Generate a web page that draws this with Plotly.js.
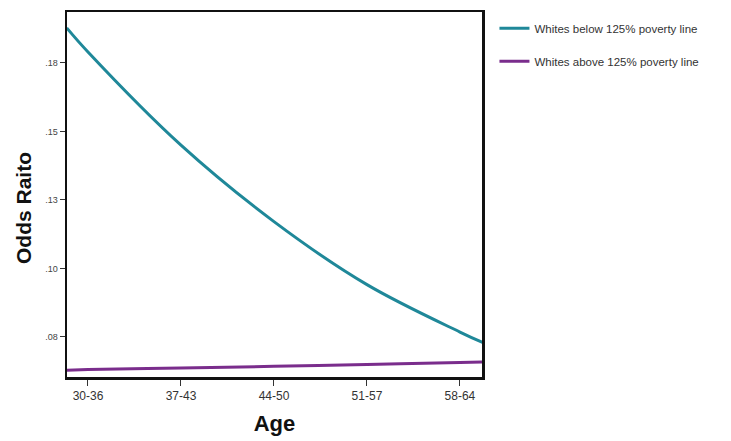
<!DOCTYPE html>
<html>
<head>
<meta charset="utf-8">
<script src="https://cdn.plot.ly/plotly-3.0.1.min.js"></script>
<style>html,body{margin:0;padding:0;background:#fff;}#chart{width:731px;height:441px;}</style>
</head>
<body>
<div id="chart"></div>
<script>
// Age positions (group midpoints; first/last are the visible curve ends)
const ages = [31.4, 33, 40, 47, 54, 61, 62.7];
const belowPoverty = [0.1878, 0.179, 0.145, 0.1171, 0.0941, 0.0768, 0.0730];
const abovePoverty = [0.0629, 0.0631, 0.0637, 0.0643, 0.0650, 0.0657, 0.0659];
const ageTickVals = [33, 40, 47, 54, 61];
const ageTickText = ["30-36", "37-43", "44-50", "51-57", "58-64"];
const oddsTickVals = [0.075, 0.1, 0.125, 0.15, 0.175];
const oddsTickText = [".08", ".10", ".13", ".15", ".18"];
const seriesNames = ["Whites below 125% poverty line", "Whites above 125% poverty line"];

const traces = [
  {x: ages, y: belowPoverty, name: seriesNames[0], type: 'scatter', mode: 'lines',
   line: {color: '#1f8899', width: 3, shape: 'spline', smoothing: 1}, legendgroup: 'a'},
  {x: ages, y: abovePoverty, name: seriesNames[1], type: 'scatter', mode: 'lines',
   line: {color: '#7a2d8c', width: 3, shape: 'spline'}, legendgroup: 'b'}
];

const layout = {
  width: 731, height: 441,
  margin: {l: 67, r: 249, t: 12, b: 64},
  paper_bgcolor: '#fff', plot_bgcolor: '#fff',
  font: {family: 'Liberation Sans, Arial, sans-serif', color: '#333'},
  xaxis: {
    range: [31.42, 62.66], tickvals: ageTickVals, ticktext: ageTickText,
    showgrid: false, zeroline: false, showline: true, mirror: true,
    linecolor: '#111', linewidth: 2.5, ticks: 'outside', ticklen: 6, tickcolor: '#333',
    tickfont: {size: 12, color: '#333'},
    title: {text: '<b>Age</b>', font: {size: 22, color: '#111'}, standoff: 14}
  },
  yaxis: {
    range: [0.0604, 0.1936], tickvals: oddsTickVals, ticktext: oddsTickText,
    showgrid: false, zeroline: false, showline: true, mirror: true,
    linecolor: '#111', linewidth: 2.5, ticks: 'outside', ticklen: 5, tickcolor: '#333',
    tickfont: {size: 9, color: '#444'}
  },
  annotations: [{
    text: '<b>Odds Raito</b>', textangle: -90, showarrow: false,
    xref: 'paper', yref: 'paper', x: 0, y: 0.463, xanchor: 'center', yanchor: 'middle',
    xshift: -44, font: {size: 21, color: '#111'}
  }],
  showlegend: true,
  legend: {
    x: 1.03, y: 0.995, xanchor: 'left', yanchor: 'top',
    font: {size: 11.5, color: '#333'}, tracegroupgap: 14,
    bgcolor: 'rgba(0,0,0,0)', itemwidth: 30
  }
};

Plotly.newPlot('chart', traces, layout, {displayModeBar: false, staticPlot: true});
</script>
</body>
</html>
